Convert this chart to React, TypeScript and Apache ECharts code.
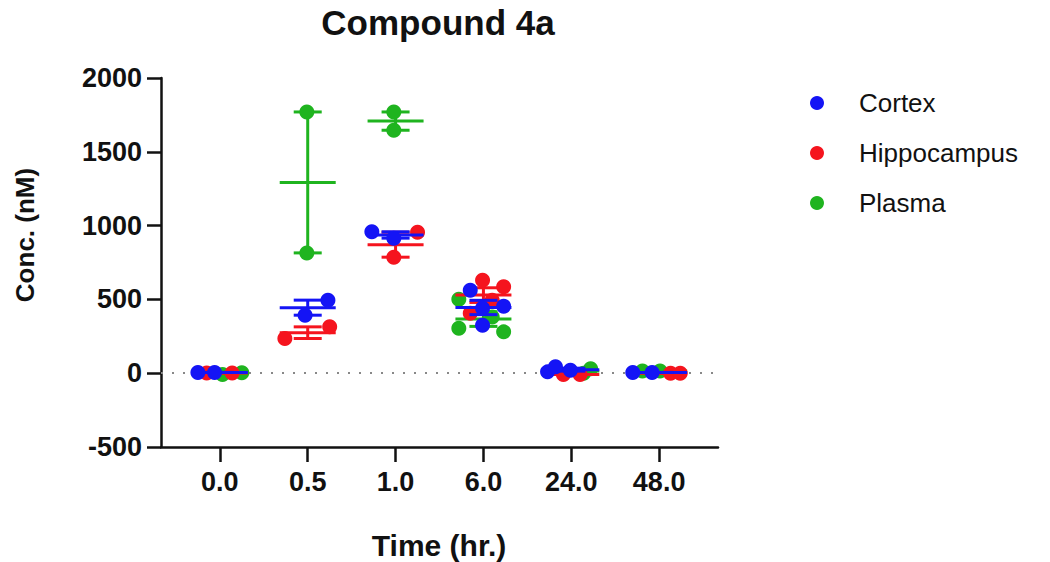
import React, { useEffect, useRef } from "react";
import * as echarts from "echarts";

const FONT = "'Liberation Sans', Arial, Helvetica, sans-serif";

const categories = ["0.0", "0.5", "1.0", "6.0", "24.0", "48.0"];
const yTicks = [-500, 0, 500, 1000, 1500, 2000];

const cortexValues = [[5, 5], [495, 393], [958, 915], [562, 454, 440, 325], [9, 43, 20], [5, 5]];
const cortexJitter = [[-0.25, -0.06], [0.23, -0.03], [-0.27, -0.02], [-0.15, 0.23, -0.01, -0.01], [-0.27, -0.18, -0.01], [-0.3, -0.08]];

const hippoValues = [[2, 2], [314, 235], [955, 786], [630, 585, 495, 406], [-8, -8], [0, 0]];
const hippoJitter = [[-0.15, 0.14], [0.25, -0.26], [0.25, -0.02], [-0.01, 0.23, 0.1, -0.15], [-0.09, 0.1], [0.13, 0.24]];

const plasmaValues = [[-8, 3], [1770, 815], [1770, 1646], [501, 381, 305, 280], [30, 0], [15, 15]];
const plasmaJitter = [[0.03, 0.25], [-0.01, -0.01], [-0.02, -0.02], [-0.28, 0.1, -0.28, 0.23], [0.22, 0.14], [-0.19, 0.01]];

const groups = [
  { name: "Plasma", color: "#1fb41f", values: plasmaValues, jitter: plasmaJitter, z: 2 },
  { name: "Hippocampus", color: "#f5141e", values: hippoValues, jitter: hippoJitter, z: 3 },
  { name: "Cortex", color: "#1414f5", values: cortexValues, jitter: cortexJitter, z: 4 },
];
const legendOrder = ["Cortex", "Hippocampus", "Plasma"];

function meanSem(arr: number[]) {
  const n = arr.length;
  const m = arr.reduce((a, b) => a + b, 0) / n;
  const v = arr.reduce((a, b) => a + (b - m) * (b - m), 0) / (n - 1);
  const sem = Math.sqrt(v) / Math.sqrt(n);
  return [m, m - sem, m + sem];
}

export default function App() {
  const ref = useRef<HTMLDivElement>(null);
  useEffect(() => {
    const chart = echarts.init(ref.current!, null, { renderer: "svg" });
    const series: any[] = [];
    groups.forEach((g, gi) => {
      const pts: number[][] = [];
      g.values.forEach((vals, ci) => vals.forEach((v, k) => pts.push([ci + g.jitter[ci][k], v])));
      const s: any = {
        type: "scatter",
        name: g.name,
        data: pts,
        symbol: "circle",
        symbolSize: 15,
        itemStyle: { color: g.color, opacity: 1 },
        z: g.z,
        silent: true,
      };
      if (gi === 0) {
        s.markLine = {
          silent: true,
          symbol: ["none", "none"],
          label: { show: false },
          lineStyle: { type: [2, 9], color: "#888", width: 2 },
          data: [{ yAxis: 0 }],
          z: 1,
        };
      }
      series.push(s);
      const bars = g.values.map((vals, ci) => [ci, ...meanSem(vals)]);
      series.push({
        type: "custom",
        name: g.name + " SEM",
        data: bars,
        z: g.z,
        silent: true,
        encode: { x: 0, y: [1, 2, 3] },
        renderItem: (params: any, api: any) => {
          const i = api.value(0);
          const c = api.coord([i, api.value(1)]);
          const lo = api.coord([i, api.value(2)]);
          const hi = api.coord([i, api.value(3)]);
          const st = { stroke: g.color, lineWidth: 3 };
          return {
            type: "group",
            children: [
              { type: "line", shape: { x1: c[0] - 28, y1: c[1], x2: c[0] + 28, y2: c[1] }, style: st },
              { type: "line", shape: { x1: c[0], y1: lo[1], x2: c[0], y2: hi[1] }, style: st },
              { type: "line", shape: { x1: c[0] - 14, y1: lo[1], x2: c[0] + 14, y2: lo[1] }, style: st },
              { type: "line", shape: { x1: c[0] - 14, y1: hi[1], x2: c[0] + 14, y2: hi[1] }, style: st },
            ],
          };
        },
      });
    });

    const legendGraphics: any[] = [];
    legendOrder.forEach((name, i) => {
      const g = groups.find((x) => x.name === name)!;
      const y = 103 + i * 50;
      legendGraphics.push({ type: "circle", shape: { cx: 817, cy: y, r: 7 }, style: { fill: g.color } });
      legendGraphics.push({
        type: "text",
        x: 859,
        y: y,
        style: { text: name, font: `26px ${FONT}`, fill: "#111", textVerticalAlign: "middle", textAlign: "left" },
      });
    });

    chart.setOption({
      animation: false,
      backgroundColor: "#fff",
      grid: { left: 161, right: 332, top: 78, bottom: 115 },
      xAxis: {
        type: "value",
        min: -0.67,
        max: 5.67,
        splitLine: { show: false },
        axisLine: { show: true, onZero: false, lineStyle: { color: "#111", width: 2.5 } },
        axisTick: { show: true, customValues: [0, 1, 2, 3, 4, 5], length: 15, lineStyle: { color: "#111", width: 2.5 } },
        axisLabel: {
          customValues: [0, 1, 2, 3, 4, 5],
          formatter: (v: number) => categories[Math.round(v)],
          fontFamily: FONT,
          fontWeight: "bold",
          fontSize: 27,
          color: "#111",
          margin: 21,
        },
      },
      yAxis: {
        type: "value",
        min: yTicks[0],
        max: yTicks[yTicks.length - 1],
        interval: 500,
        splitLine: { show: false },
        axisLine: { show: true, onZero: false, lineStyle: { color: "#111", width: 2.5 } },
        axisTick: { show: true, length: 14, lineStyle: { color: "#111", width: 2.5 } },
        axisLabel: {
          formatter: (v: number) => String(v),
          fontFamily: FONT,
          fontWeight: "bold",
          fontSize: 27,
          color: "#111",
          margin: 19,
        },
      },
      graphic: [
        {
          type: "text",
          x: 438,
          y: 22,
          style: { text: "Compound 4a", font: `bold 35px ${FONT}`, fill: "#111", textAlign: "center", textVerticalAlign: "middle" },
        },
        {
          type: "text",
          x: 439,
          y: 545,
          style: { text: "Time (hr.)", font: `bold 30px ${FONT}`, fill: "#111", textAlign: "center", textVerticalAlign: "middle" },
        },
        {
          type: "text",
          x: 25,
          y: 235,
          rotation: Math.PI / 2,
          style: { text: "Conc. (nM)", font: `bold 26px ${FONT}`, fill: "#111", textAlign: "center", textVerticalAlign: "middle" },
        },
        ...legendGraphics,
      ],
      series,
    });
    return () => chart.dispose();
  }, []);
  return <div ref={ref} style={{ position: "fixed", left: 0, top: 0, width: 1050, height: 562 }} />;
}
